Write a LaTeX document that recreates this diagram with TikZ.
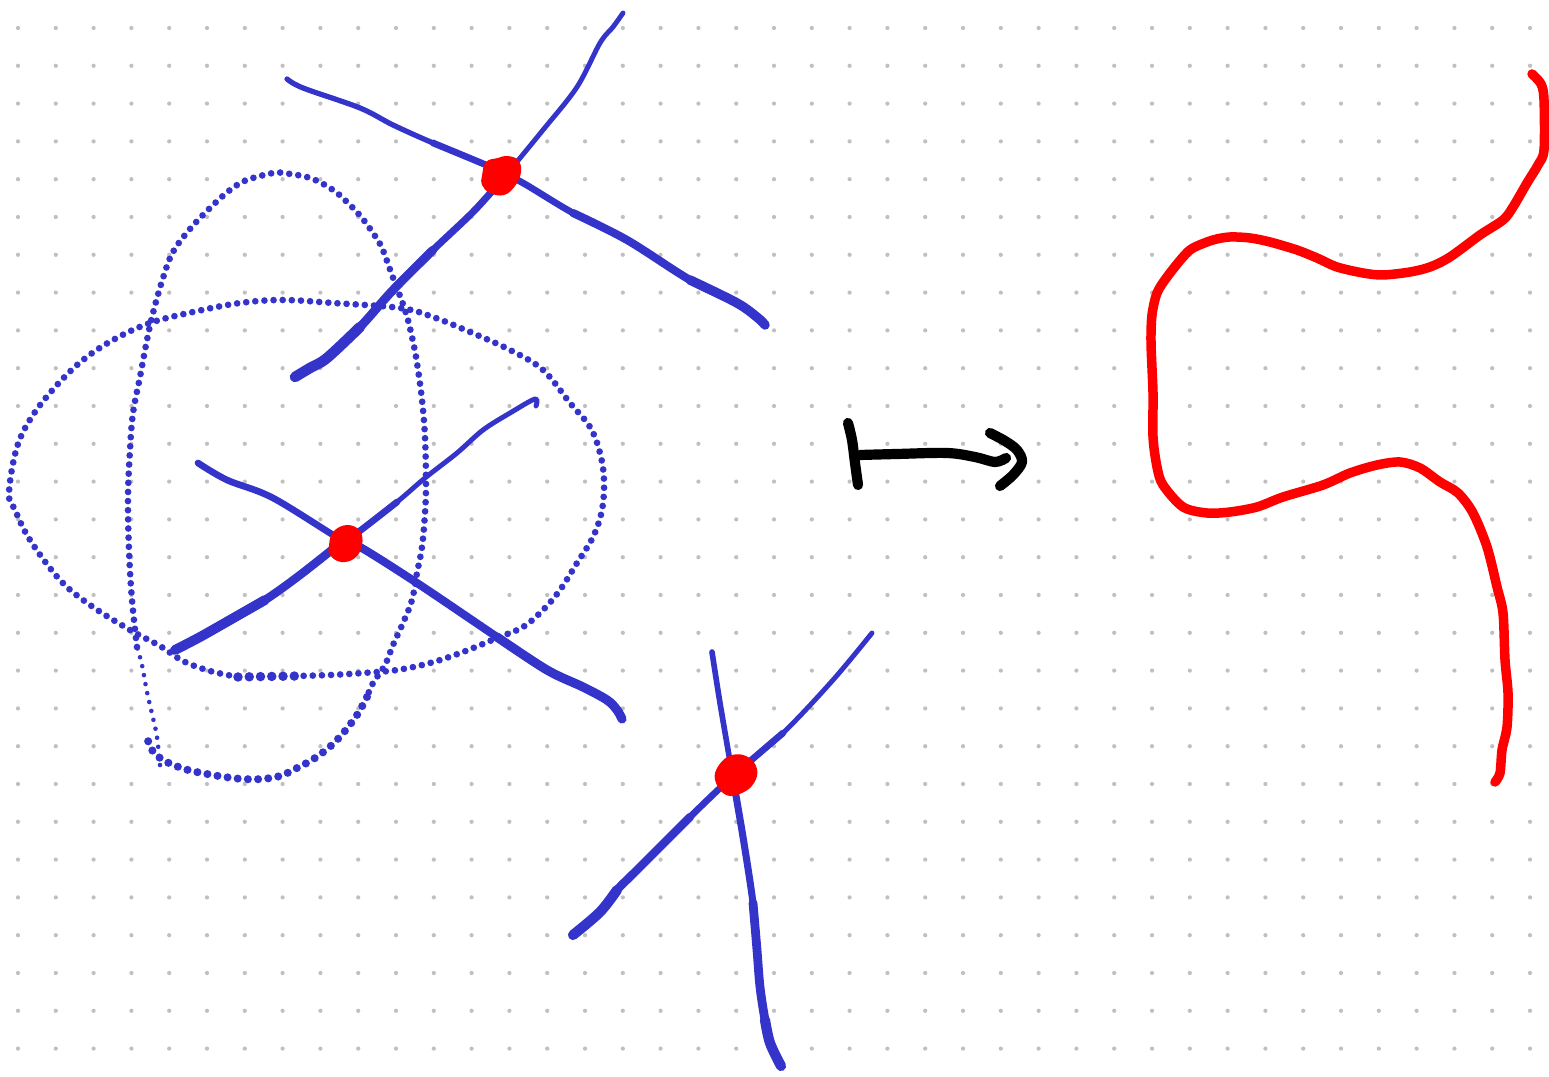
\documentclass[tikz,border=0pt]{standalone}
\definecolor{bl}{RGB}{52,52,202}
\definecolor{griddot}{RGB}{192,192,192}
\definecolor{redc}{RGB}{255,0,0}
\tikzset{
  pen/.style={draw=bl, line cap=round, line join=round},
  dotline/.style={draw=bl, line width=1.9pt, line cap=round, dash pattern=on 0pt off 2.6pt},
  redpen/.style={draw=redc, line width=2.7pt, line cap=round, line join=round},
  blackpen/.style={draw=black, line width=2.9pt, line cap=round, line join=round},
  blob/.style={fill=redc},
}
\begin{document}
\begin{tikzpicture}[x=0.01cm,y=-0.01cm]
\fill[white] (0,0) rectangle (1549,1077);
\useasboundingbox (0,0) rectangle (1549,1077);
% dot grid
\foreach \i in {0,...,40}{
  \foreach \j in {0,...,27}{
    \fill[griddot] ({18+37.8*\i},{28+37.8*\j}) circle[radius=0.6pt];
  }
}
% ---------- dotted loops ----------
% loop 1 (wide)
\draw[dotline] plot[smooth, tension=0.6] coordinates {(238,677) (210,671) (183,661) (160,646) (130,630) (90,605) (60,580) (30,540) (15,510) (9,493) (17,447) (33,415) (57,385) (83,360) (113,340) (150,323) (193,312) (240,303) (283,300) (333,303) (400,308) (433,317) (470,332) (510,350) (543,370) (570,403) (590,427) (600,453) (604,480) (602,510) (593,537) (577,563) (560,590) (543,610) (523,627) (497,638) (463,652) (430,663) (397,670) (363,673) (330,675) (297,676)};
\draw[dotline, line width=2.7pt, dash pattern=on 0pt off 3.2pt] (238,677) -- (297,676);
% loop 2 (tall)
\draw[dotline] plot[smooth, tension=0.6] coordinates {(137,647) (132,600) (129,550) (128,497) (130,450) (133,413) (140,377) (147,340) (153,313) (163,278) (173,252) (190,229) (210,208) (230,190) (247,180) (273,173) (283,173) (310,178) (333,190) (350,205) (362,218) (373,233) (382,248) (392,275) (405,310) (412,337) (417,363) (422,400) (425,437) (426,483) (425,513) (422,547) (417,573) (412,600) (403,623) (393,645) (385,665) (373,683) (367,697)};
\draw[dotline, line width=2.3pt, dash pattern=on 0pt off 2.9pt] plot[smooth, tension=0.6] coordinates {(367,697) (355,718) (335,742) (315,758) (297,768) (280,776) (262,779) (243,779) (225,777) (207,774) (188,770) (171,764) (160,758) (152,750) (147,738)};
\draw[dotline, line width=1.3pt, dash pattern=on 0pt off 2.6pt] plot[smooth, tension=0.6] coordinates {(160,765) (157,737) (153,718) (147,692) (142,665) (137,647)};
% ---------- top cross ----------
\draw[pen, line width=1.5pt] plot[smooth, tension=0.55] coordinates {(287,79) (303,88) (360,108) (393,125) (433,143) (493,168) (523,183) (573,213) (627,240) (690,280) (737,303) (758,318) (765,325)};
\draw[pen, line width=1.9pt] plot[smooth, tension=0.55] coordinates {(433,143) (493,168) (523,183) (573,213) (627,240) (690,280) (737,303) (758,318) (765,325)};
\draw[pen, line width=2.3pt] plot[smooth, tension=0.55] coordinates {(573,213) (627,240) (690,280) (737,303) (758,318) (765,325)};
\draw[pen, line width=2.7pt] plot[smooth, tension=0.55] coordinates {(690,280) (737,303) (758,318) (765,325)};
\draw[pen, line width=1.4pt] plot[smooth, tension=0.55] coordinates {(295,377) (310,368) (327,358) (360,327) (393,290) (433,250) (473,212) (500,182) (543,130) (577,87) (600,43) (613,27) (623,13)};
\draw[pen, line width=2.0pt] plot[smooth, tension=0.55] coordinates {(295,377) (310,368) (327,358) (360,327) (393,290) (433,250) (473,212) (500,182)};
\draw[pen, line width=2.5pt] plot[smooth, tension=0.55] coordinates {(295,377) (310,368) (327,358) (360,327) (393,290) (433,250)};
\draw[pen, line width=3.0pt] plot[smooth, tension=0.55] coordinates {(295,377) (310,368) (327,358) (360,327)};
% ---------- middle cross ----------
\draw[pen, line width=1.4pt] plot[smooth, tension=0.55] coordinates {(175,650) (200,637) (230,620) (265,600) (300,575) (343,541) (357,533) (397,502) (425,478) (457,453) (483,430) (510,413) (535,399) (536,406)};
\draw[pen, line width=1.9pt] plot[smooth, tension=0.55] coordinates {(175,650) (200,637) (230,620) (265,600) (300,575) (343,541) (357,533) (397,502)};
\draw[pen, line width=2.4pt] plot[smooth, tension=0.55] coordinates {(175,650) (200,637) (230,620) (265,600) (300,575) (343,541)};
\draw[pen, line width=2.8pt] plot[smooth, tension=0.55] coordinates {(175,650) (200,637) (230,620) (265,600)};
\draw[pen, line width=1.9pt] plot[smooth, tension=0.55] coordinates {(198,463) (227,480) (273,498) (343,541) (360,547) (417,583) (497,637) (547,670) (583,687) (607,700) (617,710) (622,719)};
\draw[pen, line width=2.3pt] plot[smooth, tension=0.55] coordinates {(343,541) (360,547) (417,583) (497,637) (547,670) (583,687) (607,700) (617,710) (622,719)};
\draw[pen, line width=2.6pt] plot[smooth, tension=0.55] coordinates {(497,637) (547,670) (583,687) (607,700) (617,710) (622,719)};
% ---------- bottom cross ----------
\draw[pen, line width=1.6pt] plot[smooth, tension=0.55] coordinates {(712,652) (720,703) (732,773) (743,837) (753,903) (757,950) (760,987) (765,1020) (770,1043) (781,1066)};
\draw[pen, line width=2.0pt] plot[smooth, tension=0.55] coordinates {(732,773) (743,837) (753,903) (757,950) (760,987) (765,1020) (770,1043) (781,1066)};
\draw[pen, line width=2.5pt] plot[smooth, tension=0.55] coordinates {(753,903) (757,950) (760,987) (765,1020) (770,1043) (781,1066)};
\draw[pen, line width=2.9pt] plot[smooth, tension=0.55] coordinates {(765,1020) (770,1043) (781,1066)};
\draw[pen, line width=1.4pt] plot[smooth, tension=0.55] coordinates {(573,935) (600,912) (617,890) (637,870) (690,817) (732,777) (783,733) (833,680) (872,633)};
\draw[pen, line width=1.9pt] plot[smooth, tension=0.55] coordinates {(573,935) (600,912) (617,890) (637,870) (690,817) (732,777) (783,733)};
\draw[pen, line width=2.4pt] plot[smooth, tension=0.55] coordinates {(573,935) (600,912) (617,890) (637,870) (690,817)};
\draw[pen, line width=2.9pt] plot[smooth, tension=0.55] coordinates {(573,935) (600,912) (617,890)};
% ---------- red blobs ----------
\fill[blob] plot[smooth cycle, tension=0.7] coordinates {(482,176) (486,162) (498,158) (507,156) (518,160) (521,172) (515,186) (504,195) (490,193) (482,185)};
\fill[blob] plot[smooth cycle, tension=0.7] coordinates {(329,546) (333,532) (347,525) (360,531) (362,545) (355,558) (341,562) (330,555)};
\fill[blob] plot[smooth cycle, tension=0.7] coordinates {(715,780) (719,765) (732,755) (748,757) (757,769) (754,783) (742,793) (726,795)};
% ---------- maps-to arrow ----------
\draw[blackpen] plot[smooth, tension=0.55] coordinates {(848,423) (852,440) (855,463) (858,485)};
\draw[blackpen] plot[smooth, tension=0.55] coordinates {(860,455) (897,454) (947,453) (975,457) (995,462) (1006,458)};
\draw[blackpen] plot[smooth, tension=0.55] coordinates {(990,433) (1005,441) (1017,450) (1022,462) (1013,475) (1000,486)};
% ---------- red curve ----------
\draw[redpen] plot[smooth, tension=0.5] coordinates {(1532,74) (1541,84) (1544,100) (1544,150) (1538,165) (1527,183) (1513,207) (1503,220) (1480,235) (1450,257) (1430,267) (1410,272) (1383,275) (1363,273) (1337,267) (1317,258) (1297,250) (1270,242) (1250,238) (1230,237) (1213,240) (1193,248) (1183,257) (1167,277) (1157,293) (1152,315) (1151,343) (1153,393) (1153,437) (1157,467) (1163,485) (1183,507) (1207,513) (1230,512) (1257,507) (1283,497) (1323,485) (1350,473) (1377,465) (1400,462) (1420,468) (1440,482) (1458,493) (1473,513) (1487,547) (1497,587) (1503,613) (1505,660) (1508,693) (1507,727) (1502,750) (1500,773) (1495,782)};
\end{tikzpicture}
\end{document}
